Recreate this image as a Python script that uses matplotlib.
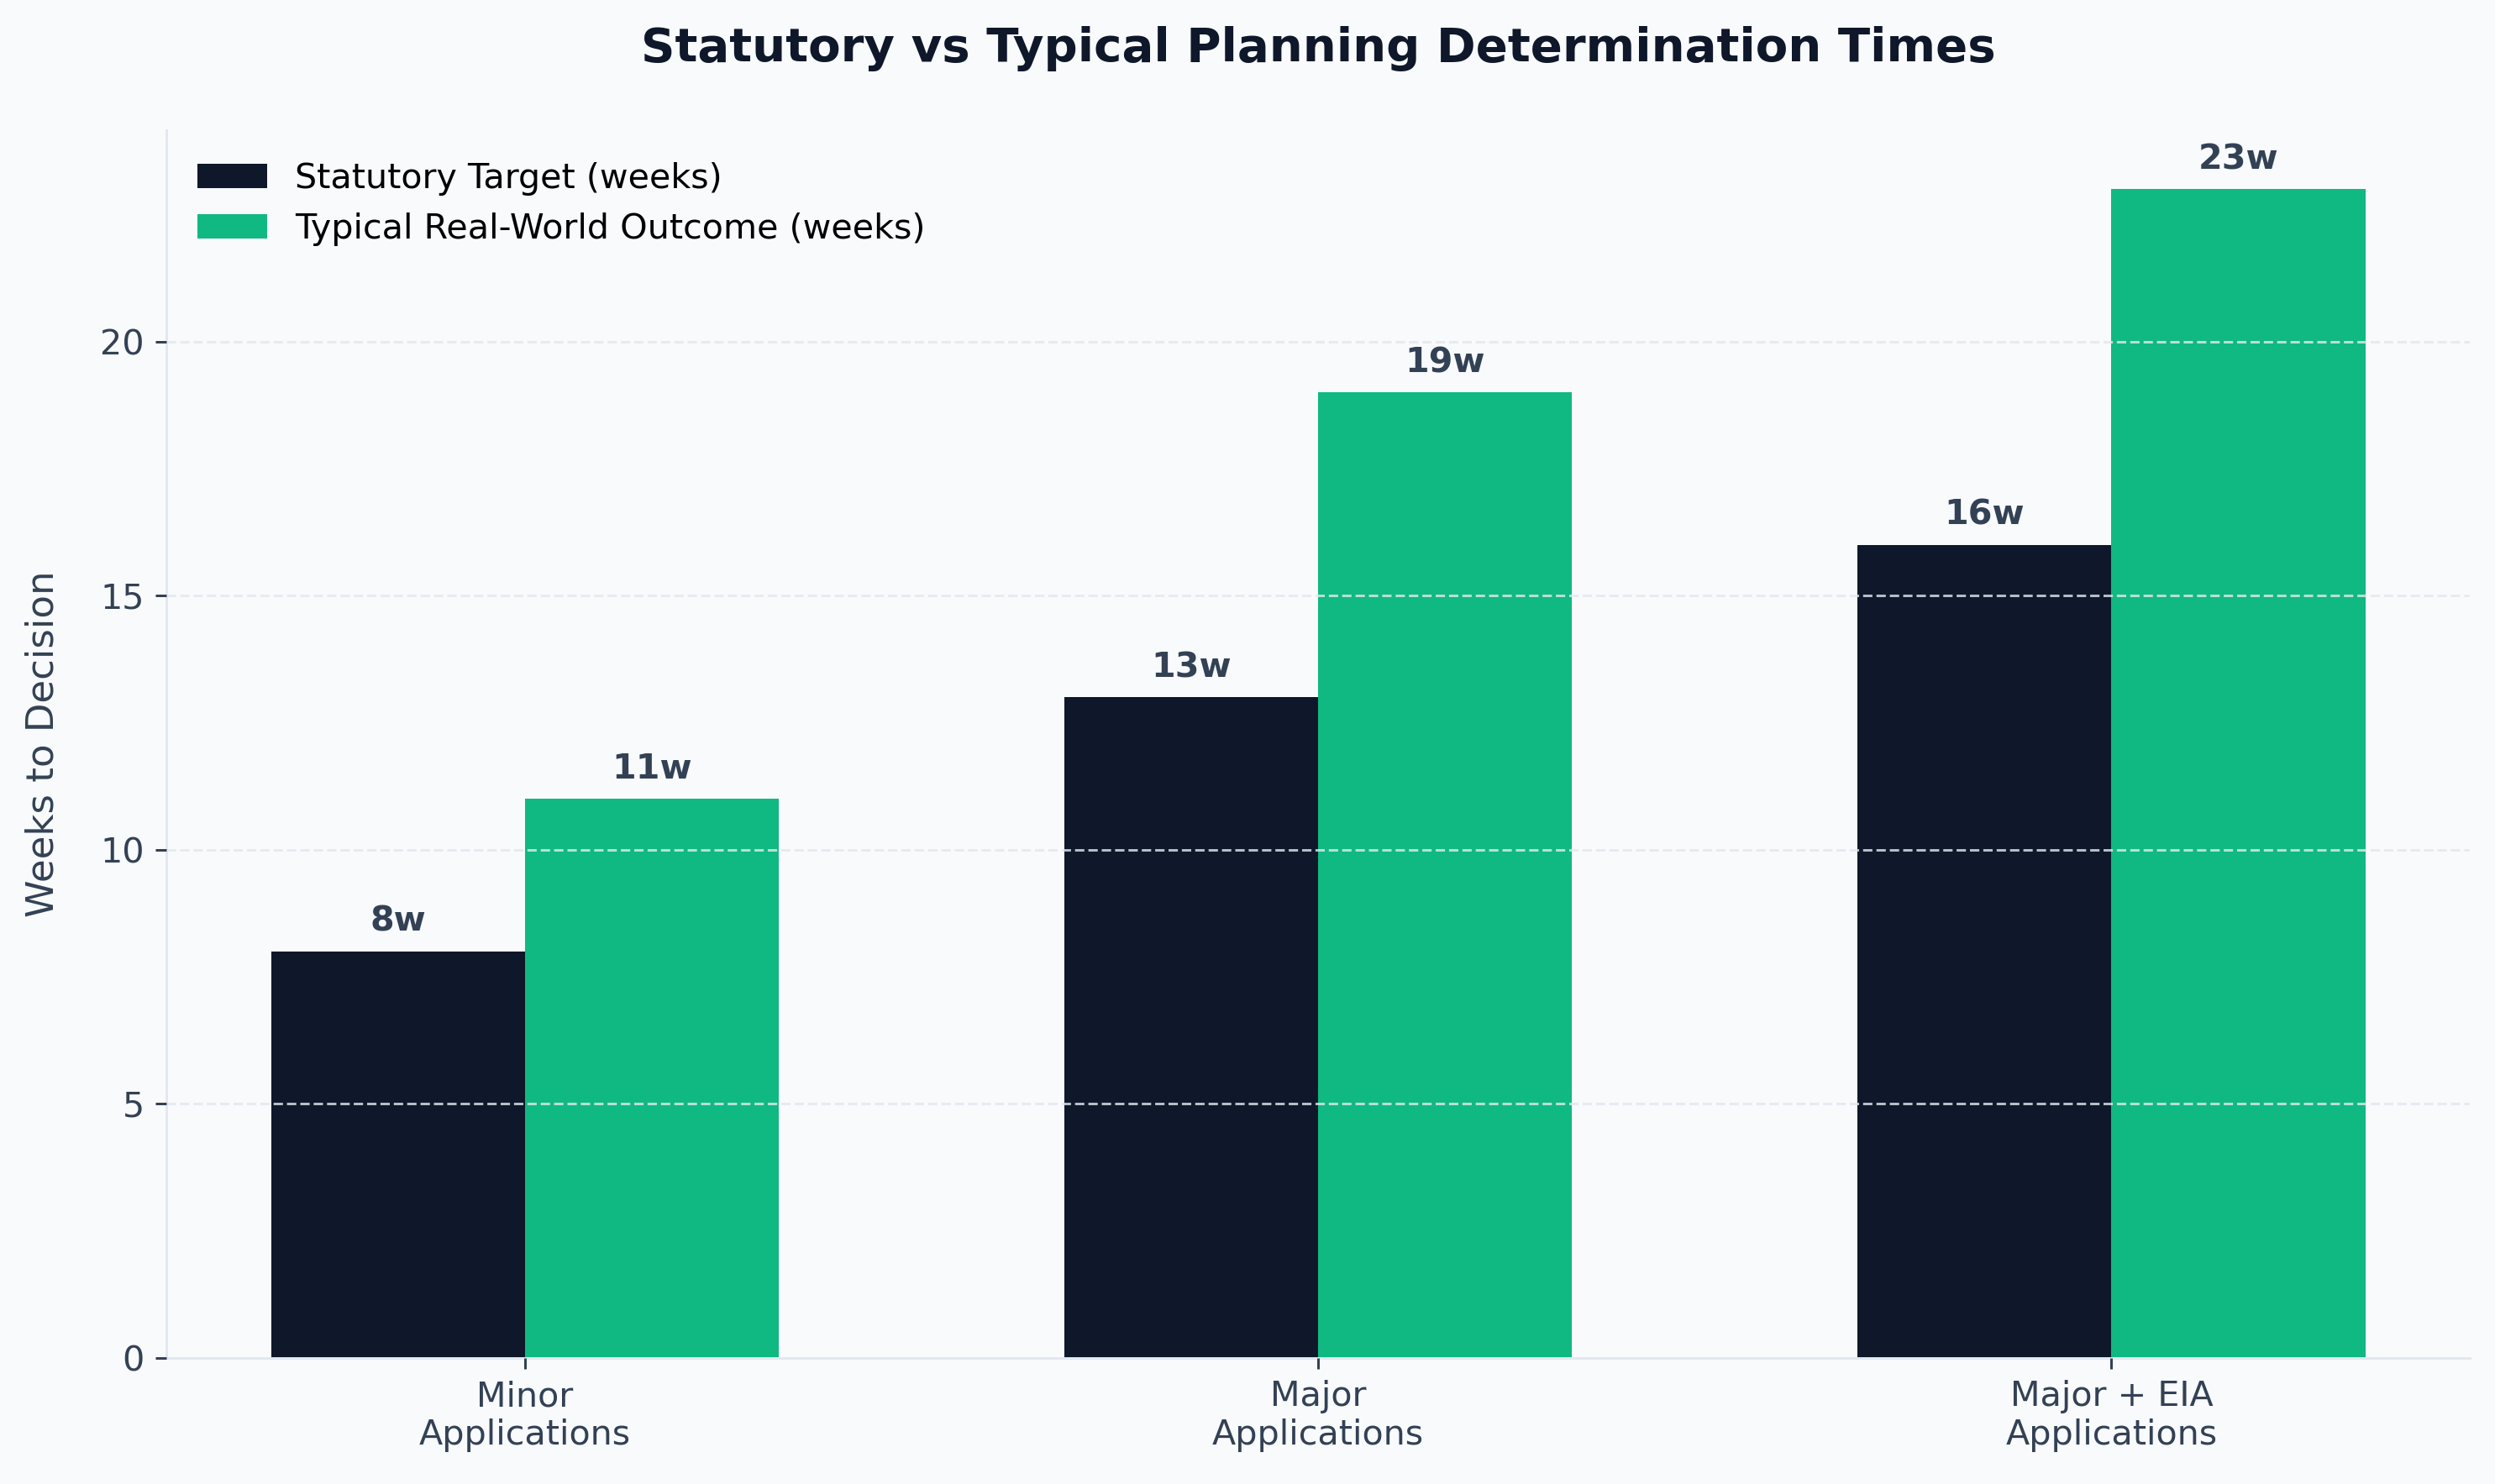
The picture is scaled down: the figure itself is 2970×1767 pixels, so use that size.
import matplotlib
matplotlib.use("Agg")
import matplotlib.pyplot as plt
import numpy as np

categories = ["Minor\nApplications", "Major\nApplications", "Major + EIA\nApplications"]
statutory = [8, 13, 16]
typical = [11, 19, 23]
series_names = ["Statutory Target (weeks)", "Typical Real-World Outcome (weeks)"]

BG = "#f8fafc"
DARK = "#0f172a"
GREEN = "#10b981"
TEXT = "#334155"
SPINE = "#e2e8f0"

DPI = 270
fig, ax = plt.subplots(figsize=(2970 / DPI, 1767 / DPI), dpi=DPI)
fig.patch.set_facecolor(BG)
ax.set_facecolor(BG)

x = np.arange(len(categories))
w = 0.32
b1 = ax.bar(x - w / 2, statutory, w, color=DARK, label=series_names[0])
b2 = ax.bar(x + w / 2, typical, w, color=GREEN, label=series_names[1])

for bars in (b1, b2):
    for r in bars:
        h = r.get_height()
        ax.annotate(f"{int(h)}w", (r.get_x() + r.get_width() / 2, h),
                    xytext=(0, 4), textcoords="offset points",
                    ha="center", va="bottom", fontsize=11, fontweight="bold", color=TEXT)

ax.set_xticks(x)
ax.set_xticklabels(categories, fontsize=11, color=TEXT)
ax.tick_params(axis="y", labelsize=11, colors=TEXT)
ax.tick_params(axis="x", colors=TEXT)
ax.set_ylabel("Weeks to Decision", fontsize=12, color=TEXT, labelpad=12.5)
ax.set_title("Statutory vs Typical Planning Determination Times", fontsize=15,
             fontweight="bold", color=DARK, pad=22)

ax.set_axisbelow(False)
ax.yaxis.grid(True, linestyle="--", color=SPINE, alpha=0.8, linewidth=0.8)
for s in ("top", "right"):
    ax.spines[s].set_visible(False)
for s in ("left", "bottom"):
    ax.spines[s].set_color(SPINE)

ax.legend(frameon=False, fontsize=11, loc="upper left")

fig.subplots_adjust(left=0.0667, right=0.99, bottom=0.085, top=0.912)
fig.savefig("out.png", dpi=DPI, facecolor=BG)
